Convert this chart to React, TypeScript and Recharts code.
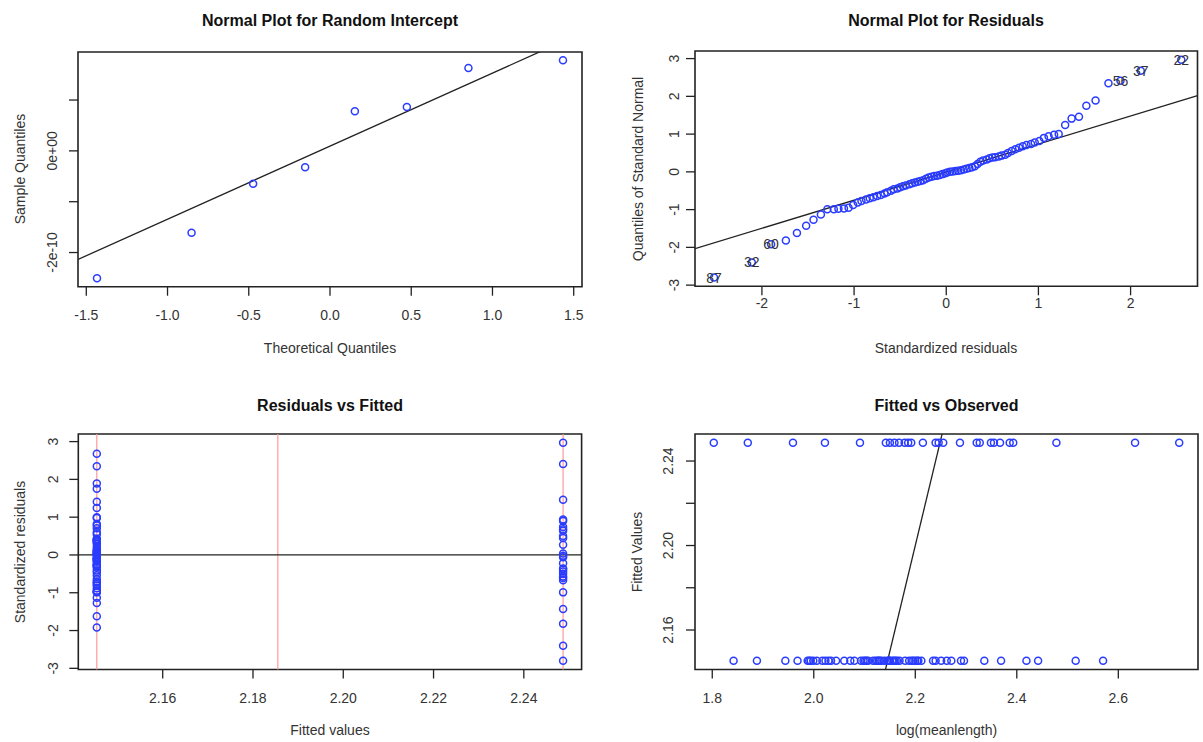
import React from 'react';
import { ScatterChart, Scatter, XAxis, YAxis, ReferenceLine, ReferenceArea } from 'recharts';

const FONT = '"Liberation Sans", Arial, Helvetica, sans-serif';
const BLUE = '#2a3cff';
const INK = '#222';
const FS = 14;

// ---------- Panel 1: Normal plot for random intercept ----------
const riTheoretical = [-1.434, -0.852, -0.473, -0.153, 0.153, 0.473, 0.852, 1.434];
const riSample = [-2.507e-10, -1.611e-10, -0.648e-10, -0.32e-10, 0.78e-10, 0.864e-10, 1.631e-10, 1.782e-10];
const riLine = { intercept: 0.093e-10, slope: 1.437e-10 };
const riXTicks = [-1.5, -1, -0.5, 0, 0.5, 1, 1.5];
const riYTicks = [-2e-10, -1e-10, 0, 1e-10];

// ---------- Panel 2: Normal plot for residuals ----------
const nrmX = [
  -2.52, -2.11, -1.9, -1.74, -1.62, -1.52, -1.44, -1.36, -1.29, -1.22,
  -1.17, -1.11, -1.06, -1.01, -0.96, -0.92, -0.87, -0.83, -0.79, -0.75,
  -0.71, -0.67, -0.64, -0.6, -0.57, -0.53, -0.5, -0.47, -0.44, -0.4,
  -0.37, -0.34, -0.31, -0.28, -0.25, -0.22, -0.19, -0.16, -0.13, -0.1,
  -0.07, -0.04, -0.01, 0.01, 0.04, 0.07, 0.1, 0.13, 0.16, 0.19,
  0.22, 0.25, 0.28, 0.31, 0.34, 0.37, 0.4, 0.44, 0.47, 0.5,
  0.53, 0.57, 0.6, 0.64, 0.67, 0.71, 0.75, 0.79, 0.83, 0.87,
  0.92, 0.96, 1.01, 1.06, 1.11, 1.17, 1.22, 1.29, 1.36, 1.44,
  1.52, 1.62, 1.76, 1.89, 2.11, 2.55,
];
const nrmY = [
  -2.8, -2.4, -1.92, -1.82, -1.62, -1.43, -1.27, -1.13, -0.99, -0.99,
  -0.98, -0.97, -0.95, -0.88, -0.81, -0.77, -0.73, -0.7, -0.67, -0.64,
  -0.61, -0.57, -0.54, -0.5, -0.46, -0.44, -0.41, -0.38, -0.36, -0.33,
  -0.3, -0.28, -0.26, -0.24, -0.22, -0.18, -0.15, -0.13, -0.11, -0.1,
  -0.08, -0.06, -0.04, -0.02, 0.0, 0.01, 0.02, 0.03, 0.04, 0.06,
  0.08, 0.1, 0.12, 0.15, 0.21, 0.27, 0.3, 0.33, 0.36, 0.38,
  0.39, 0.41, 0.43, 0.45, 0.5, 0.55, 0.6, 0.64, 0.68, 0.71,
  0.74, 0.78, 0.82, 0.9, 0.94, 0.98, 1.0, 1.24, 1.41, 1.46,
  1.75, 1.89, 2.35, 2.41, 2.68, 2.97,
];
const nrmLabels: Record<number, string> = { 0: '87', 1: '32', 2: '60', 83: '56', 84: '37', 85: '22' };
const nrmLine = { intercept: -0.006, slope: 0.744 };
const nrmXTicks = [-2, -1, 0, 1, 2];
const nrmYTicks = [-3, -2, -1, 0, 1, 2, 3];

// ---------- Panels 3 & 4: two fitted groups ----------
const fittedLow = 2.1454;
const fittedHigh = 2.2487;
const fittedMid = 2.1855;
const residLow = [
  2.68, 2.35, 1.89, 1.75, 1.41, 1.24, 1.0, 0.98, 0.82, 0.78,
  0.71, 0.6, 0.55, 0.43, 0.41, 0.39, 0.38, 0.36, 0.33, 0.3,
  0.21, 0.15, 0.12, 0.1, 0.08, 0.06, 0.03, 0.02, 0.01, 0.0,
  -0.04, -0.08, -0.1, -0.11, -0.13, -0.15, -0.18, -0.24, -0.26, -0.28,
  -0.3, -0.33, -0.41, -0.46, -0.54, -0.64, -0.7, -0.73, -0.77, -0.81,
  -0.88, -0.95, -0.97, -0.98, -0.99, -1.13, -1.27, -1.62, -1.92,
];
const residHigh = [
  2.97, 2.41, 1.46, 0.94, 0.9, 0.74, 0.68, 0.64, 0.5, 0.45,
  0.27, 0.04, -0.02, -0.06, -0.22, -0.36, -0.38, -0.44, -0.5, -0.57,
  -0.61, -0.67, -0.99, -1.43, -1.82, -2.4, -2.8,
];
const obsLow = [
  2.57, 2.516, 2.442, 2.419, 2.369, 2.336, 2.296, 2.29, 2.271, 2.262,
  2.251, 2.24, 2.235, 2.212, 2.206, 2.204, 2.2, 2.196, 2.193, 2.188,
  2.18, 2.169, 2.164, 2.161, 2.158, 2.155, 2.15, 2.149, 2.147, 2.145,
  2.139, 2.133, 2.13, 2.128, 2.125, 2.122, 2.117, 2.107, 2.104, 2.101,
  2.098, 2.093, 2.08, 2.072, 2.06, 2.044, 2.034, 2.029, 2.023, 2.017,
  2.006, 1.999, 1.994, 1.991, 1.988, 1.968, 1.944, 1.888, 1.842,
];
const obsHigh = [
  2.72, 2.633, 2.478, 2.393, 2.386, 2.367, 2.355, 2.349, 2.327, 2.321,
  2.288, 2.255, 2.246, 2.24, 2.215, 2.192, 2.186, 2.179, 2.168, 2.159,
  2.15, 2.142, 2.091, 2.022, 1.959, 1.87, 1.803,
];
const rvfXTicks = [2.16, 2.18, 2.2, 2.22, 2.24];
const rvfYTicks = [-3, -2, -1, 0, 1, 2, 3];
const fvoXTicks = [1.8, 2.0, 2.2, 2.4, 2.6];
const fvoYTicks = [2.16, 2.18, 2.2, 2.22, 2.24];
const identityLine = { intercept: 0, slope: 1 };

// ---------- data tables ----------
const riData = riTheoretical.map((x, i) => ({ x, y: riSample[i] }));
const nrmData = nrmX.map((x, i) => ({ x, y: nrmY[i], label: nrmLabels[i] }));
const rvfLow = residLow.map((y) => ({ x: fittedLow, y }));
const rvfHigh = residHigh.map((y) => ({ x: fittedHigh, y }));
const fvoLow = obsLow.map((x) => ({ x, y: fittedLow }));
const fvoHigh = obsHigh.map((x) => ({ x, y: fittedHigh }));

const Ring = (props: any) => {
  const { cx, cy, payload } = props;
  if (cx == null || cy == null) return null;
  return (
    <g>
      <circle cx={cx} cy={cy} r={3.5} fill="none" stroke={BLUE} strokeWidth={1.5} />
      {payload && payload.label ? (
        <text x={cx} y={cy} textAnchor="middle" dominantBaseline="central" fontSize={FS} fill="#333" fontFamily={FONT}>
          {payload.label}
        </text>
      ) : null}
    </g>
  );
};

const makeYTick = (fmt: (v: number) => string) => (props: any) => {
  const { x, y, payload } = props;
  const s = fmt(payload.value);
  return (
    <text x={x} y={y} transform={`rotate(-90 ${x} ${y})`} textAnchor="middle" fontSize={FS} fill="#333" fontFamily={FONT}>
      {s}
    </text>
  );
};

type Box = { left: number; top: number; right: number; bottom: number };

function Panel(p: {
  left: number; top: number; width: number; height: number; box: Box;
  xDomain: [number, number]; yDomain: [number, number];
  xTicks: number[]; yTicks: number[];
  xFmt: (v: number) => string; yFmt: (v: number) => string;
  xTickMargin: number; yTickMargin: number; children?: any;
}) {
  const margin = { top: p.box.top - p.top, right: p.left + p.width - p.box.right, bottom: 0, left: 0 };
  return (
    <div style={{ position: 'absolute', left: p.left, top: p.top, width: p.width, height: p.height }}>
      <ScatterChart width={p.width} height={p.height} margin={margin}>
        <XAxis
          type="number" dataKey="x" domain={p.xDomain} allowDataOverflow ticks={p.xTicks} interval={0}
          tickFormatter={p.xFmt} height={p.top + p.height - p.box.bottom} tickSize={9} tickMargin={p.xTickMargin}
          axisLine={false} tickLine={{ stroke: INK, strokeWidth: 1.3 }}
          tick={{ fontSize: FS, fill: '#333', fontFamily: FONT }}
        />
        <YAxis
          type="number" dataKey="y" domain={p.yDomain} allowDataOverflow ticks={p.yTicks} interval={0}
          width={p.box.left - p.left} tickSize={9} tickMargin={p.yTickMargin}
          axisLine={false} tickLine={{ stroke: INK, strokeWidth: 1.3 }} tick={makeYTick(p.yFmt)}
        />
        <ReferenceArea
          x1={p.xDomain[0]} x2={p.xDomain[1]} y1={p.yDomain[0]} y2={p.yDomain[1]}
          fill="none" fillOpacity={0} stroke={INK} strokeWidth={1.6} ifOverflow="visible"
        />
        {p.children}
      </ScatterChart>
    </div>
  );
}

const seg = (line: { intercept: number; slope: number }, d: [number, number]) => [
  { x: d[0], y: line.intercept + line.slope * d[0] },
  { x: d[1], y: line.intercept + line.slope * d[1] },
];

export default function App() {
  const d1x: [number, number] = [-1.551, 1.551];
  const d1y: [number, number] = [-2.672e-10, 1.945e-10];
  const d2x: [number, number] = [-2.726, 2.726];
  const d2y: [number, number] = [-3.031, 3.201];
  const d3x: [number, number] = [2.1413, 2.2528];
  const d3y: [number, number] = [-3.031, 3.201];
  const d4x: [number, number] = [1.766, 2.757];
  const d4y: [number, number] = [2.1413, 2.2528];
  const intFmt = (v: number) => String(v);
  const title = { fontSize: 16, fontWeight: 700, fill: '#111', fontFamily: FONT, textAnchor: 'middle' as const };
  const axt = { fontSize: FS, fill: '#333', fontFamily: FONT, textAnchor: 'middle' as const };
  return (
    <div style={{ position: 'absolute', left: 0, top: 0, width: 1203, height: 742, background: '#fff', overflow: 'hidden' }}>
      <Panel
        left={0} top={0} width={600} height={360} box={{ left: 78, top: 52, right: 582, bottom: 286.7 }}
        xDomain={d1x} yDomain={d1y} xTicks={riXTicks} yTicks={riYTicks}
        xFmt={(v) => v.toFixed(1)}
        yFmt={(v) => (Math.abs(v) < 1e-15 ? '0e+00' : Math.abs(v + 2e-10) < 1e-15 ? '-2e-10' : '')}
        xTickMargin={14} yTickMargin={11.5}
      >
        <ReferenceLine segment={seg(riLine, d1x)} stroke={INK} strokeWidth={1.3} ifOverflow="hidden" />
        <Scatter data={riData} shape={Ring} isAnimationActive={false} />
      </Panel>

      <Panel
        left={620} top={0} width={583} height={360} box={{ left: 695, top: 51, right: 1197.5, bottom: 286.3 }}
        xDomain={d2x} yDomain={d2y} xTicks={nrmXTicks} yTicks={nrmYTicks}
        xFmt={intFmt} yFmt={intFmt} xTickMargin={2.5} yTickMargin={7}
      >
        <ReferenceLine segment={seg(nrmLine, d2x)} stroke={INK} strokeWidth={1.3} ifOverflow="hidden" />
        <Scatter data={nrmData} shape={Ring} isAnimationActive={false} />
      </Panel>

      <Panel
        left={0} top={380} width={600} height={362} box={{ left: 78.3, top: 434, right: 581.6, bottom: 669.5 }}
        xDomain={d3x} yDomain={d3y} xTicks={rvfXTicks} yTicks={rvfYTicks}
        xFmt={(v) => v.toFixed(2)} yFmt={intFmt} xTickMargin={14.2} yTickMargin={11}
      >
        <ReferenceLine x={fittedLow} stroke="#ff9a9a" strokeWidth={1.2} />
        <ReferenceLine x={fittedMid} stroke="#ff9a9a" strokeWidth={1.2} />
        <ReferenceLine x={fittedHigh} stroke="#ff9a9a" strokeWidth={1.2} />
        <ReferenceLine y={0} stroke={INK} strokeWidth={1.3} />
        <Scatter data={rvfLow} shape={Ring} isAnimationActive={false} />
        <Scatter data={rvfHigh} shape={Ring} isAnimationActive={false} />
      </Panel>

      <Panel
        left={620} top={380} width={583} height={362} box={{ left: 695, top: 434, right: 1198, bottom: 669.5 }}
        xDomain={d4x} yDomain={d4y} xTicks={fvoXTicks} yTicks={fvoYTicks}
        xFmt={(v) => v.toFixed(1)}
        yFmt={(v) => { const k = Math.round(v * 100); return k === 216 || k === 220 || k === 224 ? v.toFixed(2) : ''; }}
        xTickMargin={14.2} yTickMargin={13}
      >
        <ReferenceLine segment={seg(identityLine, d4x)} stroke={INK} strokeWidth={1.3} ifOverflow="hidden" />
        <Scatter data={fvoLow} shape={Ring} isAnimationActive={false} />
        <Scatter data={fvoHigh} shape={Ring} isAnimationActive={false} />
      </Panel>

      <svg width={1203} height={742} style={{ position: 'absolute', left: 0, top: 0, pointerEvents: 'none' }}>
        <text x={330} y={26} {...title}>Normal Plot for Random Intercept</text>
        <text x={946} y={26} {...title}>Normal Plot for Residuals</text>
        <text x={330} y={411} {...title}>Residuals vs Fitted</text>
        <text x={946.5} y={411} {...title}>Fitted vs Observed</text>
        <text x={330} y={353} {...axt}>Theoretical Quantiles</text>
        <text x={946} y={353} {...axt}>Standardized residuals</text>
        <text x={330} y={735} {...axt}>Fitted values</text>
        <text x={946.5} y={735} {...axt}>log(meanlength)</text>
        <text x={25} y={169} transform="rotate(-90 25 169)" {...axt}>Sample Quantiles</text>
        <text x={643} y={169} transform="rotate(-90 643 169)" {...axt}>Quantiles of Standard Normal</text>
        <text x={25} y={552} transform="rotate(-90 25 552)" {...axt}>Standardized residuals</text>
        <text x={642} y={552} transform="rotate(-90 642 552)" {...axt}>Fitted Values</text>
      </svg>
    </div>
  );
}
